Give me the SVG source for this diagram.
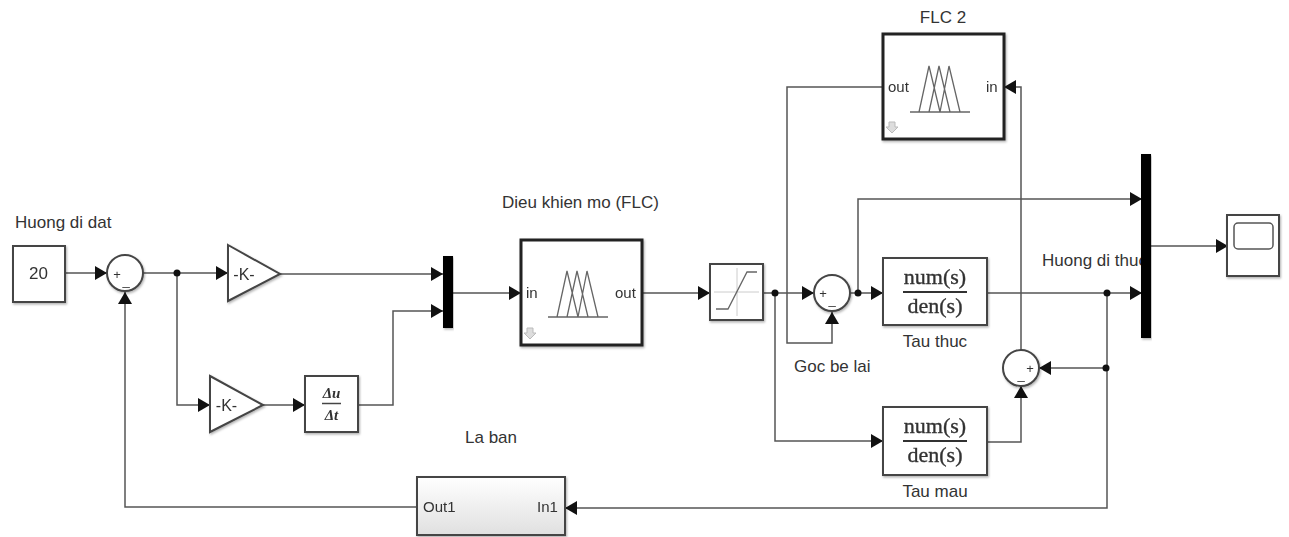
<svg xmlns="http://www.w3.org/2000/svg" width="1289" height="537" viewBox="0 0 1289 537">
<style>
text{font-family:"Liberation Sans",Arial,sans-serif;font-size:17px;fill:#333}
.c{text-anchor:middle}
.i{font-size:15px}
.b{fill:#fff;stroke:#444;stroke-width:2}
.f{fill:#fff;stroke:#222;stroke-width:3}
.w{fill:none;stroke:#555;stroke-width:1.5}
.m{fill:none;stroke:#666;stroke-width:1.3}
.t{font-family:"Liberation Serif","Times New Roman",serif;font-size:22px;stroke:#333;stroke-width:.35;fill:#333}
.d{font-family:"Liberation Serif","Times New Roman",serif;font-size:15px;font-weight:bold;font-style:italic}
.s{font-size:13px}
</style>
<defs>
<marker id="a" markerUnits="userSpaceOnUse" markerWidth="14" markerHeight="14" refX="12" refY="7" orient="auto"><path d="M0 0L12 7L0 14Z" fill="#111"/></marker>
<filter id="sh" x="-10%" y="-10%" width="120%" height="120%"><feDropShadow dx="1" dy="1.5" stdDeviation="1" flood-color="#000" flood-opacity=".3"/></filter>
<g id="fz"><path d="M-30 0H30M-21 0L-11-46L0 0M-11 0L-1-46L10 0M0 0L9-46L20 0" class="m"/></g>
<linearGradient id="g" x1="0" y1="0" x2="0" y2="1"><stop offset="0" stop-color="#fff"/><stop offset="1" stop-color="#e0e0e0"/></linearGradient>
<clipPath id="cp"><rect x="1030" y="240" width="112" height="40"/></clipPath>
</defs>
<g id="connectors" class="w">
<path d="M65 273H107" marker-end="url(#a)"/>
<path d="M143 273H228" marker-end="url(#a)"/>
<path d="M177 273V405H210" marker-end="url(#a)"/>
<path d="M280 274H443" marker-end="url(#a)"/>
<path d="M263 405H305" marker-end="url(#a)"/>
<path d="M358 405H393V311H443" marker-end="url(#a)"/>
<path d="M453 293H521" marker-end="url(#a)"/>
<path d="M642 293H710" marker-end="url(#a)"/>
<path d="M763 293H814" marker-end="url(#a)"/>
<path d="M775 293V441H883" marker-end="url(#a)"/>
<path d="M883 87H787V343H832V312" marker-end="url(#a)"/>
<path d="M850 293H883" marker-end="url(#a)"/>
<path d="M858 293V199H1142" marker-end="url(#a)"/>
<path d="M987 293H1142" marker-end="url(#a)"/>
<path d="M1107 293V508H565" marker-end="url(#a)"/>
<path d="M1106 368H1039" marker-end="url(#a)"/>
<path d="M987 442H1021V386" marker-end="url(#a)"/>
<path d="M1021 350V87H1004" marker-end="url(#a)"/>
<path d="M1151 246H1228" marker-end="url(#a)"/>
<path d="M417 507H125V292" marker-end="url(#a)"/>
<circle cx="177" cy="273" r="3.500" fill="#111" stroke="none"/>
<circle cx="775" cy="293" r="3.500" fill="#111" stroke="none"/>
<circle cx="858" cy="293" r="3.500" fill="#111" stroke="none"/>
<circle cx="1107" cy="293" r="3.500" fill="#111" stroke="none"/>
<circle cx="1106" cy="368" r="3.500" fill="#111" stroke="none"/>
</g>
<g id="const" filter="url(#sh)"><rect class="b" x="13" y="246" width="52" height="56"/><text class="c" x="38.500" y="279">20</text></g>
<text x="15" y="228">Huong di dat</text>
<g id="sum1" filter="url(#sh)"><circle class="b" cx="125" cy="273" r="18"/><text class="c s" x="117" y="279">+</text><text class="c s" x="126" y="285">_</text></g>
<g id="gain1" filter="url(#sh)"><path class="b" d="M228 245L280 274L228 301Z"/><text class="c" x="244" y="280" style="font-size:16px">-K-</text></g>
<g id="gain2" filter="url(#sh)"><path class="b" d="M210 376L263 405L210 432Z"/><text class="c" x="226.500" y="411" style="font-size:16px">-K-</text></g>
<g id="deriv" filter="url(#sh)"><rect class="b" x="305" y="376" width="53" height="56"/><path d="M322 403.500H341" stroke="#444" stroke-width="1.500"/><text class="c d" x="331.500" y="398">Δu</text><text class="c d" x="331.500" y="420">Δt</text></g>
<g id="mux1" filter="url(#sh)"><rect x="443" y="256" width="10" height="72" fill="#000"/></g>
<text x="502" y="208">Dieu khien mo (FLC)</text>
<g id="flc1" filter="url(#sh)"><rect class="f" x="521" y="240" width="121" height="105"/><text class="i" x="526" y="298">in</text><text class="i" x="615" y="298">out</text><use href="#fz" x="578" y="317"/><path d="M527 328h6v5h3l-6 6l-6-6h3z" fill="#ddd" stroke="#bbb"/></g>
<g id="sat" filter="url(#sh)"><rect class="b" x="710" y="264" width="53" height="56"/><path d="M714 292H759M737 268V316" stroke="#ccc" fill="none"/><path d="M716 309H728L747 272H757" class="m"/></g>
<g id="sum2" filter="url(#sh)"><circle class="b" cx="832" cy="293" r="18"/><text class="c s" x="823" y="298">+</text><text class="c s" x="832" y="304">_</text></g>
<text x="794" y="372">Goc be lai</text>
<text class="c" x="943" y="23">FLC 2</text>
<g id="flc2" filter="url(#sh)"><rect class="f" x="883" y="34" width="121" height="105"/><text class="i" x="888" y="92">out</text><text class="i" x="986" y="92">in</text><use href="#fz" x="940" y="112"/><path d="M889 122h6v5h3l-6 6l-6-6h3z" fill="#ddd" stroke="#bbb"/></g>
<g id="tf1" filter="url(#sh)"><rect class="b" x="883" y="258" width="104" height="67"/><text class="c t" x="935" y="284">num(s)</text><path d="M903 292H967" stroke="#333" stroke-width="2"/><text class="c t" x="935" y="313">den(s)</text></g>
<text class="c" x="935" y="347">Tau thuc</text>
<g id="tf2" filter="url(#sh)"><rect class="b" x="883" y="407" width="104" height="68"/><text class="c t" x="935" y="433">num(s)</text><path d="M903 441H967" stroke="#333" stroke-width="2"/><text class="c t" x="935" y="462">den(s)</text></g>
<text class="c" x="935" y="497">Tau mau</text>
<g id="sum3" filter="url(#sh)"><circle class="b" cx="1021" cy="368" r="18"/><text class="c s" x="1030" y="373">+</text><text class="c s" x="1021" y="379">_</text></g>
<text x="1042" y="266" clip-path="url(#cp)">Huong di thuc</text>
<g id="mux2" filter="url(#sh)"><rect x="1141" y="154" width="10" height="184" fill="#000"/></g>
<g id="scope" filter="url(#sh)"><rect class="b" x="1227" y="215" width="52" height="61"/><rect x="1234" y="223" width="39" height="26" rx="4" fill="none" stroke="#555" stroke-width="1.500"/></g>
<text x="465" y="443">La ban</text>
<g id="laban" filter="url(#sh)"><rect x="417" y="477" width="148" height="58" fill="url(#g)" stroke="#444" stroke-width="2"/><text class="i" x="423" y="512">Out1</text><text class="i" x="537" y="512">In1</text></g>
</svg>
